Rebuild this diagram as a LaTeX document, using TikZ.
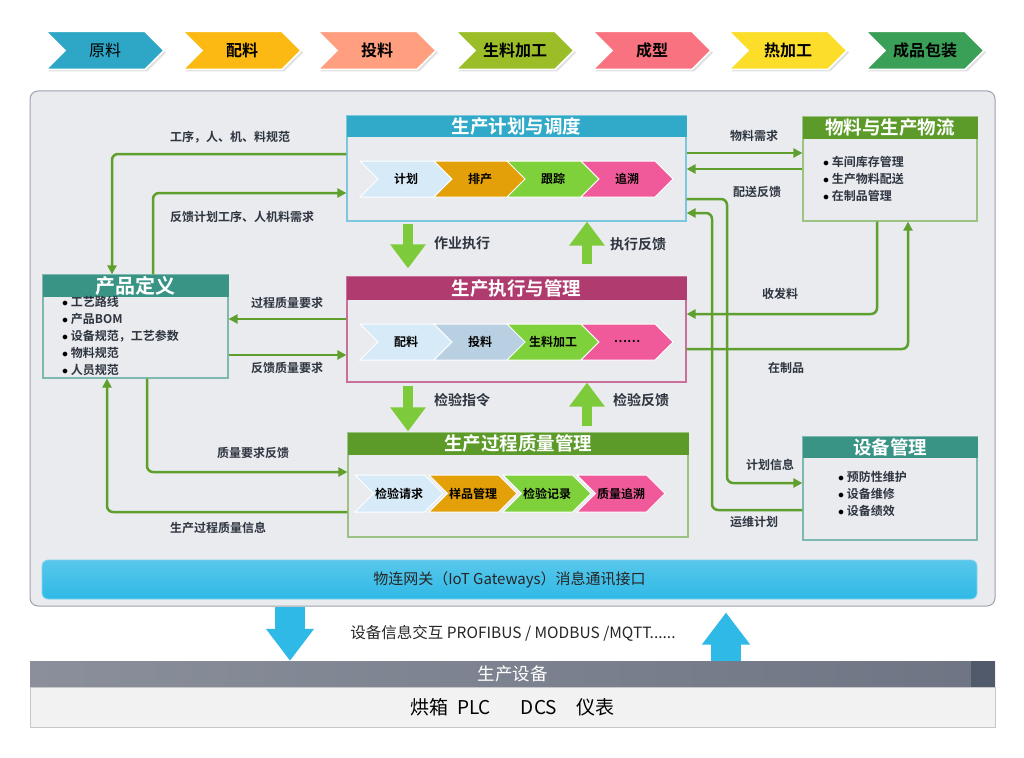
\documentclass[tikz,border=0pt]{standalone}
\usepackage{fontspec}
\setmainfont{Noto Sans CJK SC}[BoldFont={* Bold}]
\usetikzlibrary{shapes.symbols,arrows.meta,calc,shadows}
\definecolor{cA}{HTML}{2EA7C6}
\definecolor{cB}{HTML}{FDB913}
\definecolor{cC}{HTML}{FF9F7F}
\definecolor{cD}{HTML}{9BBE28}
\definecolor{cE}{HTML}{F8737F}
\definecolor{cF}{HTML}{FCDD2A}
\definecolor{cG}{HTML}{3AA057}
\definecolor{inLB}{HTML}{D6EAF8}
\definecolor{inOR}{HTML}{E3A008}
\definecolor{inGR}{HTML}{7FD13B}
\definecolor{inPK}{HTML}{F05A9B}
\definecolor{inST}{HTML}{B9CFE2}
\definecolor{hPlan}{HTML}{31A9C8}
\definecolor{hExec}{HTML}{B03B6F}
\definecolor{hGreen}{HTML}{5C9B2A}
\definecolor{hTeal}{HTML}{3A9486}
\definecolor{bPlan}{HTML}{7BC7DE}
\definecolor{bExec}{HTML}{C9709A}
\definecolor{bGreen}{HTML}{9DC383}
\definecolor{bTeal}{HTML}{7DB9B0}
\definecolor{conc}{HTML}{5F9F2D}
\definecolor{fatc}{HTML}{7DCB3A}
\definecolor{lblc}{HTML}{2F3540}
\definecolor{panelc}{HTML}{E9EBEE}
\definecolor{paneld}{HTML}{9AA3AD}
\definecolor{bluec}{HTML}{2FB9E6}
\definecolor{eqL}{HTML}{8A8F9B}
\definecolor{eqR}{HTML}{6F7484}
\definecolor{eqD}{HTML}{505A6B}
\newcommand{\bul}{{\color{black}$\bullet$}\ }
\tikzset{
  topchev/.style={signal, signal to=east, signal from=west, minimum width=118pt, minimum height=38pt,
    inner sep=0, draw=white, line width=1.5pt, text=black,
    font=\bfseries\fontsize{16}{16}\selectfont,
    drop shadow={shadow xshift=2pt, shadow yshift=-2pt, fill=black!12, opacity=1}},
  inchev/.style={signal, signal to=east, signal from=west, minimum height=36pt,
    inner sep=0, draw=white, line width=1pt, text=black,
    font=\bfseries\fontsize{12}{12}\selectfont},
  box/.style={draw, line width=1.2pt, fill=panelc, inner sep=0},
  hdr/.style={font=\bfseries\fontsize{18.5}{18.5}\selectfont, text=white, inner sep=0, anchor=north},
  lbl/.style={font=\bfseries\fontsize{12}{12}\selectfont, text=lblc, inner sep=0},
  flbl/.style={font=\bfseries\fontsize{14}{14}\selectfont, text=lblc, inner sep=0},
  blist/.style={font=\bfseries\fontsize{12}{17}\selectfont, text=lblc, align=left, inner sep=0, anchor=west},
  conn/.style={draw=conc, line width=2.5pt, rounded corners=6pt, -{Triangle[length=9pt,width=9pt]}},
  fat/.style={draw=fatc, line width=10pt, -{Triangle[length=24pt,width=34pt]}},
  bluearr/.style={draw=bluec, line width=30pt, -{Triangle[length=32pt,width=46pt]}},
}
\begin{document}
\begin{tikzpicture}[x=1pt,y=-1pt]
\useasboundingbox[fill=white] (0,0) rectangle (1024,757);

% top process chevrons
\node[topchev, fill=cA, font=\fontsize{16}{16}\selectfont] (t1) at (105,50.5) {原料};
\node[topchev, fill=cB] (t2) at (242,50.5) {配料};
\node[topchev, fill=cC] (t3) at (377,50.5) {投料};
\node[topchev, fill=cD] (t4) at (515,50.5) {生料加工};
\node[topchev, fill=cE] (t5) at (652,50.5) {成型};
\node[topchev, fill=cF] (t6) at (788,50.5) {热加工};
\node[topchev, fill=cG] (t7) at (925,50.5) {成品包装};

% main panel
\node[draw=paneld, line width=1pt, fill=panelc, rounded corners=8pt, minimum width=965pt, minimum height=515pt, inner sep=0] (panel) at (512.5,348.5) {};

% boxes
\node[box, draw=bPlan, minimum width=339pt, minimum height=105pt] (plan) at (516.5,168.5) {};
\node[hdr, fill=hPlan, minimum width=340pt, minimum height=21pt] (planH) at (plan.north) {生产计划与调度};
\node[box, draw=bExec, minimum width=339pt, minimum height=105pt] (exec) at (516.5,329.5) {};
\node[hdr, fill=hExec, minimum width=340pt, minimum height=23pt] (execH) at (exec.north) {生产执行与管理};
\node[box, draw=bGreen, minimum width=340pt, minimum height=104pt] (qual) at (518,485) {};
\node[hdr, fill=hGreen, minimum width=341pt, minimum height=22pt] (qualH) at (qual.north) {生产过程质量管理};
\node[box, draw=bTeal, minimum width=185pt, minimum height=103pt] (prod) at (135.5,326.5) {};
\node[hdr, fill=hTeal, minimum width=186pt, minimum height=22pt, font=\bfseries\fontsize{20}{20}\selectfont] (prodH) at (prod.north) {产品定义};
\node[box, draw=bGreen, minimum width=174pt, minimum height=104pt] (mat) at (890,169) {};
\node[hdr, fill=hGreen, minimum width=175pt, minimum height=22pt] (matH) at (mat.north) {物料与生产物流};
\node[box, draw=bTeal, minimum width=174pt, minimum height=103pt] (dev) at (890,488.5) {};
\node[hdr, fill=hTeal, minimum width=175pt, minimum height=21pt] (devH) at (dev.north) {设备管理};

% bullet lists
\node[blist] (prodL) at (62,335.5) {\bul 工艺路线\\\bul 产品BOM\\\bul 设备规范，工艺参数\\\bul 物料规范\\\bul 人员规范};
\node[blist] (matL) at (823,179) {\bul 车间库存管理\\\bul 生产物料配送\\\bul 在制品管理};
\node[blist] (devL) at (838,494) {\bul 预防性维护\\\bul 设备维修\\\bul 设备绩效};

% inner chevrons: plan
\node[inchev, fill=inLB, minimum width=92pt] (p1) at (406,179) {计划};
\node[inchev, fill=inOR, minimum width=92pt] (p2) at (480,179) {排产};
\node[inchev, fill=inGR, minimum width=92pt] (p3) at (553,179) {跟踪};
\node[inchev, fill=inPK, minimum width=92pt] (p4) at (627,179) {追溯};
% exec
\node[inchev, fill=inLB, minimum width=92pt] (e1) at (406,342) {配料};
\node[inchev, fill=inST, minimum width=92pt] (e2) at (480,342) {投料};
\node[inchev, fill=inGR, minimum width=92pt] (e3) at (553,342) {生料加工};
\node[inchev, fill=inPK, minimum width=92pt] (e4) at (627,342) {……};
% quality
\node[inchev, fill=inLB, minimum width=88pt, minimum height=37pt] (q1) at (399,493.5) {检验请求};
\node[inchev, fill=inOR, minimum width=88pt, minimum height=37pt] (q2) at (473,493.5) {样品管理};
\node[inchev, fill=inGR, minimum width=88pt, minimum height=37pt] (q3) at (547,493.5) {检验记录};
\node[inchev, fill=inPK, minimum width=88pt, minimum height=37pt] (q4) at (621,493.5) {质量追溯};

% fat green arrows
\draw[fat, shorten <=2pt, shorten >=8pt] (plan.south -| 408,0) -- (exec.north -| 408,0);
\draw[fat, shorten <=12pt] (exec.north -| 587,0) -- (plan.south -| 587,0);
\draw[fat, shorten <=3pt, shorten >=1pt] (exec.south -| 408,0) -- (qual.north -| 408,0);
\draw[fat, shorten <=6pt] (qual.north -| 587,0) -- (exec.south -| 587,0);
\node[flbl] (fl1) at (462,243) {作业执行};
\node[flbl] (fl2) at (638,244) {执行反馈};
\node[flbl] (fl3) at (462,400) {检验指令};
\node[flbl] (fl4) at (641,400) {检验反馈};

% connectors left
\draw[conn] (plan.west |- 0,154) -| (prod.north -| 112,0);
\node[lbl] (l1) at (230,137) {工序，人、机、料规范};
\draw[conn] (prod.north -| 153,0) |- (plan.west |- 0,193);
\node[lbl] (l2) at (242,217) {反馈计划工序、人机料需求};
\draw[conn] (exec.west |- 0,319) -- (prod.east |- 0,319);
\node[lbl] (l3) at (287,303) {过程质量要求};
\draw[conn] (prod.east |- 0,355) -- (exec.west |- 0,355);
\node[lbl] (l4) at (287,368) {反馈质量要求};
\draw[conn] (prod.south -| 147,0) |- (qual.west |- 0,472);
\node[lbl] (l5) at (253,453) {质量要求反馈};
\draw[conn] (qual.west |- 0,512) -| (prod.south -| 107,0);
\node[lbl] (l6) at (218,528) {生产过程质量信息};

% connectors right
\draw[conn] (plan.east |- 0,153) -- (mat.west |- 0,153);
\node[lbl] (l7) at (754,136) {物料需求};
\draw[conn] (mat.west |- 0,169) -- (plan.east |- 0,169);
\node[lbl] (l8) at (757,192) {配送反馈};
\draw[conn] (mat.south -| 877,0) |- (exec.east |- 0,314);
\node[lbl] (l9) at (780,294) {收发料};
\draw[conn] (exec.east |- 0,349) -| (mat.south -| 908,0);
\node[lbl] (l10) at (786,368) {在制品};
\coordinate (k11) at (727,483);
\draw[conn] (plan.east |- 0,199) -| (k11) -- (dev.west |- 0,483);
\node[lbl] (l11) at (770,465) {计划信息};
\coordinate (k12) at (712,213);
\draw[conn] (dev.west |- 0,510) -| (k12) -- (plan.east |- 0,213);
\node[lbl] (l12) at (754,522) {运维计划};

% IoT bar
\node[draw=bluec!60, line width=0.8pt, top color=bluec!80!white, bottom color=bluec, rounded corners=6pt,
  minimum width=935pt, minimum height=39pt, inner sep=0, font=\fontsize{15}{15}\selectfont, text=black!85] (iot) at (509.5,579.5) {物连网关（IoT Gateways）消息通讯接口};

% equipment bars
\node[left color=eqL, right color=eqR, minimum width=965pt, minimum height=26pt, inner sep=0,
  font=\fontsize{17.5}{17.5}\selectfont, text=white] (equip) at (512.5,674) {生产设备};
\fill[eqD] ($(equip.north east)+(-24,0)$) rectangle (equip.south east);
\node[fill=black!5, draw=black!22, line width=0.8pt, minimum width=965pt, minimum height=40pt, inner sep=0,
  font=\fontsize{19}{19}\selectfont, text=black] (equipL) at (512.5,707) {烘箱\hspace{9pt}PLC\hspace{30pt}DCS\hspace{20pt}仪表};

% blue arrows
\draw[bluearr] (panel.south -| 290,0) -- (equip.north -| 290,0);
\draw[bluearr, shorten >=6pt] (equip.north -| 726,0) -- (panel.south -| 726,0);
\node[font=\fontsize{15.5}{15.5}\selectfont, text=black!85, inner sep=0] (proto) at (513,633) {设备信息交互 PROFIBUS / MODBUS /MQTT......};
\end{tikzpicture}
\end{document}
